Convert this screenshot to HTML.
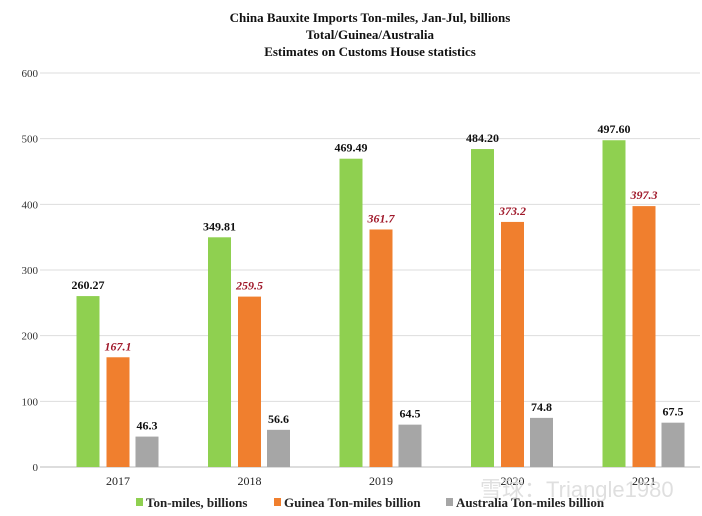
<!DOCTYPE html>
<html><head><meta charset="utf-8"><style>
body{margin:0;background:#fff;}
svg{display:block;font-family:"Liberation Serif",serif;}
</style></head><body>
<svg id="c" width="702" height="516" viewBox="0 0 702 516">
<g font-weight="bold" font-size="13" text-anchor="middle" fill="#111">
<text x="370" y="22">China Bauxite Imports Ton-miles, Jan-Jul, billions</text>
<text x="370" y="39">Total/Guinea/Australia</text>
<text x="370" y="56">Estimates on Customs House statistics</text>
</g>
<g id="grid"></g>
<g id="yt" font-size="11" fill="#333" text-anchor="end"></g>
<g id="bars"></g>
<g id="xt" font-size="12" fill="#222" text-anchor="middle"></g>
<g font-size="13" font-weight="bold" fill="#222">
<g><rect x="136" y="498" width="7" height="8" fill="#8fd050"/><text x="146" y="507">Ton-miles, billions</text></g>
<g><rect x="274" y="498" width="7" height="8" fill="#f07f2e"/><text x="284" y="507">Guinea Ton-miles billion</text></g>
<g><rect x="446" y="498" width="7" height="8" fill="#a6a6a6"/><text x="456" y="507">Australia Ton-miles billion</text></g>
</g>
<text x="480" y="497" font-family="Liberation Sans,'Noto Sans CJK SC',sans-serif" font-size="22" fill="#d8d8d8" opacity="0.8">雪球：Triangle1980</text>
</svg>
<script>
const categories=["2017","2018","2019","2020","2021"];
const totalVals=[260.27,349.81,469.49,484.20,497.60];
const guineaVals=[167.1,259.5,361.7,373.2,397.3];
const ausVals=[46.3,56.6,64.5,74.8,67.5];
const yTicks=[0,100,200,300,400,500,600];
const NS="http://www.w3.org/2000/svg";
const y=v=>467-v*394/600;
const x=i=>118+i*131.5;
function mk(t,a,p){const e=document.createElementNS(NS,t);for(const k in a)e.setAttribute(k,a[k]);p.appendChild(e);return e;}
const grid=document.getElementById('grid'),yt=document.getElementById('yt'),bars=document.getElementById('bars'),xt=document.getElementById('xt');
yTicks.forEach(t=>{
 const l=mk('line',{x1:40,x2:700,y1:y(t),y2:y(t),stroke:t===0?'#bbb':'#ddd','stroke-width':1},grid);
 
 
 const tx=mk('text',{x:38,y:y(t)+4},yt);tx.textContent=t;
 
 
});
const series=[
 {v:totalVals,c:'#8fd050',off:-30,lc:'#111',it:false,f:v=>v.toFixed(2),n:'total'},
 {v:guineaVals,c:'#f07f2e',off:0,lc:'#a0192b',it:true,f:v=>v.toFixed(1),n:'guinea'},
 {v:ausVals,c:'#a6a6a6',off:29,lc:'#111',it:false,f:v=>v.toFixed(1),n:'australia'}];
categories.forEach((c,i)=>{
 series.forEach(s=>{
  const cx=x(i)+s.off,v=s.v[i];
  const r=mk('rect',{x:cx-11.5,y:y(v),width:23,height:467-y(v),fill:s.c},bars);
  
  
  const t=mk('text',{x:cx,y:y(v)-7,'text-anchor':'middle','font-size':12,'font-weight':'bold',fill:s.lc,'font-style':s.it?'italic':'normal'},bars);
  t.textContent=s.f(v);
  
  
 });
 const t=mk('text',{x:x(i),y:485},xt);t.textContent=c;
 
 
});
</script>
</body></html>
